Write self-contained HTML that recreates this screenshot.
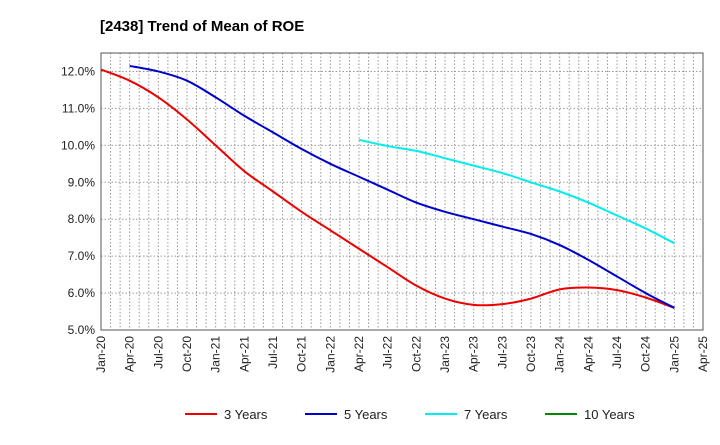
<!DOCTYPE html>
<html><head><meta charset="utf-8"><style>
body{margin:0;background:#fff;font-family:"Liberation Sans",sans-serif}
</style></head><body>
<svg width="720" height="440" xmlns="http://www.w3.org/2000/svg">
<text x="100" y="31" font-size="15" font-weight="bold">[2438]  Trend of Mean of ROE</text>
<g id="grid"></g><g id="axes"></g><g id="series"></g><g id="legend"></g>
</svg>
<script>
const xLabels=["Jan-20","Apr-20","Jul-20","Oct-20","Jan-21","Apr-21","Jul-21","Oct-21","Jan-22","Apr-22","Jul-22","Oct-22","Jan-23","Apr-23","Jul-23","Oct-23","Jan-24","Apr-24","Jul-24","Oct-24","Jan-25","Apr-25"];
const yTicks=[5,6,7,8,9,10,11,12];
const s3Start=0;
const s3=[12.05,11.75,11.3,10.7,10.0,9.3,8.75,8.2,7.7,7.2,6.7,6.2,5.85,5.68,5.7,5.85,6.1,6.15,6.08,5.88,5.6];
const s5Start=1;
const s5=[12.15,12.0,11.75,11.3,10.8,10.35,9.9,9.5,9.15,8.8,8.45,8.2,8.0,7.8,7.6,7.3,6.9,6.45,6.0,5.6];
const s7Start=9;
const s7=[10.15,9.98,9.85,9.65,9.45,9.25,9.0,8.75,8.45,8.1,7.75,7.35];
const s10=[];
const L=101,R=703,T=53,B=330,yMin=5,yMax=12.5;
const nQ=xLabels.length-1;
const xq=q=>L+(R-L)*q/nQ;
const y=v=>B-(B-T)*(v-yMin)/(yMax-yMin);
const NS="http://www.w3.org/2000/svg";
function mk(tag,attrs,parent){const e=document.createElementNS(NS,tag);for(const k in attrs)e.setAttribute(k,attrs[k]);parent.appendChild(e);return e;}
const grid=document.getElementById('grid'),axes=document.getElementById('axes'),ser=document.getElementById('series'),leg=document.getElementById('legend');
for(let m=1;m<nQ*3;m++){const x=L+(R-L)*m/(nQ*3);const l=mk('line',{x1:x,x2:x,y1:T,y2:B,stroke:'#999','stroke-dasharray':'1.5,2','stroke-width':1},grid);

}
yTicks.forEach(v=>{const l=mk('line',{x1:L,x2:R,y1:y(v),y2:y(v),stroke:'#999','stroke-dasharray':'1.5,2'},grid);


const t=mk('text',{x:L-6,y:y(v)+4,'font-size':12,'text-anchor':'end',fill:'#222'},axes);t.textContent=v.toFixed(1)+'%';

});
const fr=mk('rect',{x:L,y:T,width:R-L,height:B-T,fill:'none',stroke:'#555'},axes);


xLabels.forEach((s,i)=>{const x=xq(i);const t=mk('text',{transform:`translate(${x+4},${B+6}) rotate(-90)`,'font-size':12,'text-anchor':'end',fill:'#222'},axes);t.textContent=s;

});
function path(data,start,color,name){if(!data.length)return;const p=data.map((v,i)=>[xq(start+i),y(v)]);
let d=`M${p[0][0]},${p[0][1]}`;for(let i=0;i<p.length-1;i++){const p0=p[i-1]||p[i],p1=p[i],p2=p[i+1],p3=p[i+2]||p2;
d+=` C${p1[0]+(p2[0]-p0[0])/6},${p1[1]+(p2[1]-p0[1])/6} ${p2[0]-(p3[0]-p1[0])/6},${p2[1]-(p3[1]-p1[1])/6} ${p2[0]},${p2[1]}`;}
const e=mk('path',{d,fill:'none',stroke:color,'stroke-width':2},ser);

}
path(s3,s3Start,'#ee0000','line-3-years');path(s5,s5Start,'#0000cc','line-5-years');path(s7,s7Start,'#00eeee','line-7-years');path(s10,0,'#008800','line-10-years');
[['3 Years','#ee0000',185],['5 Years','#0000cc',305],['7 Years','#00eeee',425],['10 Years','#008800',545]].forEach(([n,c,x])=>{
const g=mk('g',{},leg);


mk('line',{x1:x,x2:x+32,y1:414,y2:414,stroke:c,'stroke-width':2},g);
const t=mk('text',{x:x+39,y:419,'font-size':13,fill:'#222'},g);t.textContent=n;});
</script>
</body></html>
